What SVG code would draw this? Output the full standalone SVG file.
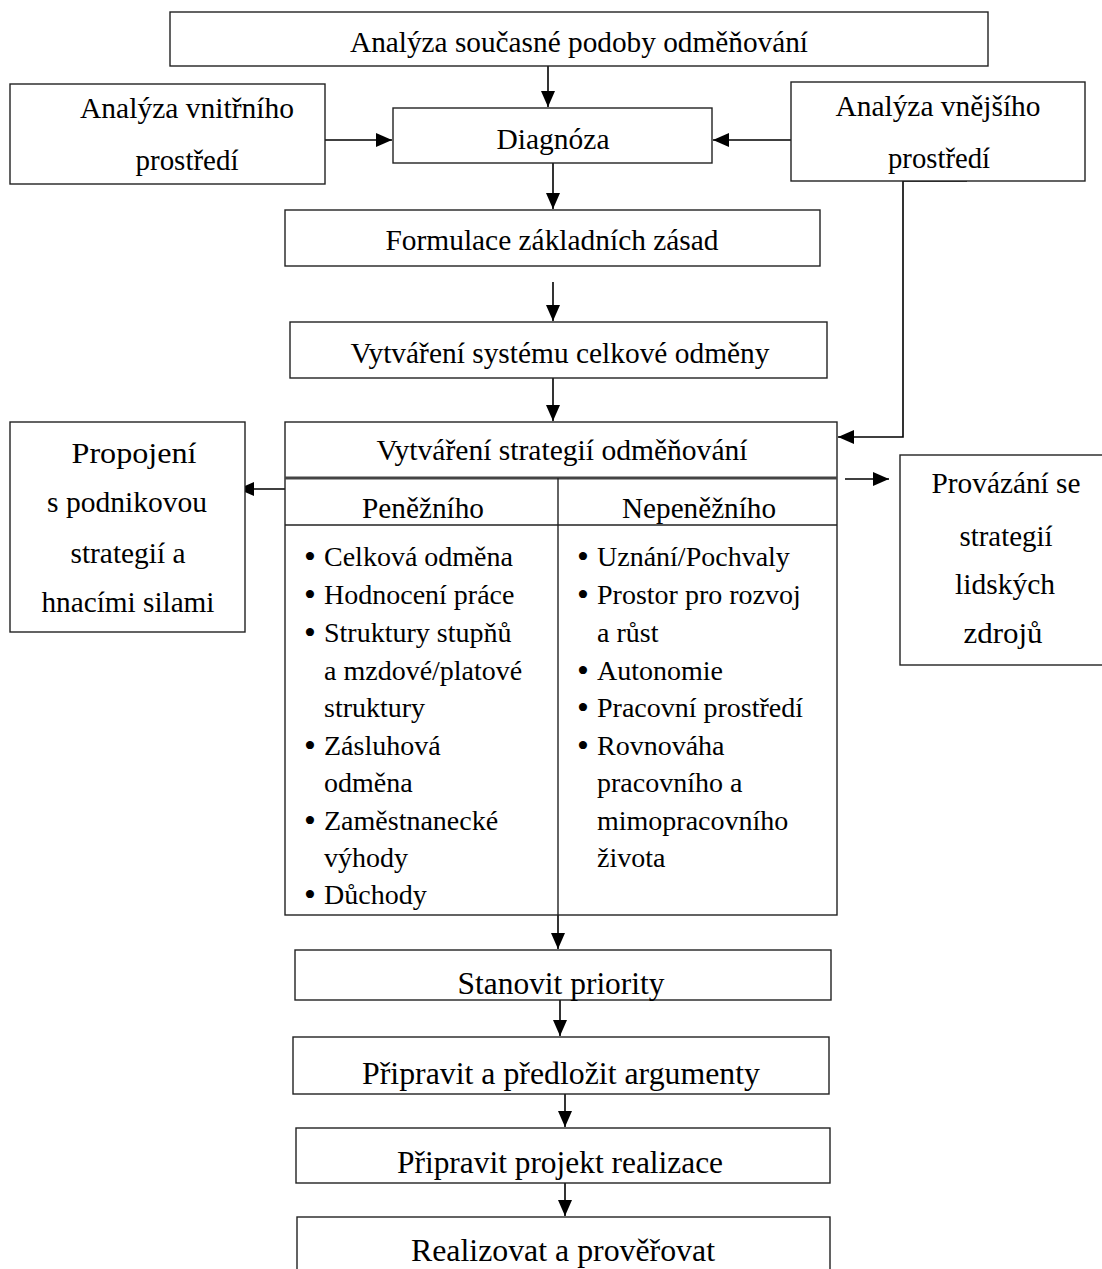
<svg xmlns="http://www.w3.org/2000/svg" width="1102" height="1269" viewBox="0 0 1102 1269">
<defs>
<style>
.box{fill:#fff;stroke:#222;stroke-width:1.4}
.t{font-family:"Liberation Serif","Times New Roman",serif;font-size:29px;fill:#000;text-anchor:middle}
.tl{font-family:"Liberation Serif","Times New Roman",serif;font-size:28px;fill:#000}
.bu{font-size:34px}
.tb{font-family:"Liberation Serif","Times New Roman",serif;font-size:32px;fill:#000;text-anchor:middle}
.c{fill:none;stroke:#000;stroke-width:1.6}
.d{fill:none;stroke:#222;stroke-width:1.4}
</style>
<marker id="ah" markerWidth="16" markerHeight="14" refX="16" refY="7" orient="auto" markerUnits="userSpaceOnUse">
<path d="M0,0 L16,7 L0,14 Z" fill="#000"/>
</marker>
</defs>
<rect width="1102" height="1269" fill="#fff"/>

<g id="connectors">
<line class="c" x1="548" y1="66" x2="548" y2="107" marker-end="url(#ah)"/>
<line class="c" x1="325" y1="140" x2="392" y2="140" stroke-width="2.2" marker-end="url(#ah)"/>
<line class="c" x1="791" y1="140" x2="713" y2="140" stroke-width="2.2" marker-end="url(#ah)"/>
<line class="c" x1="553" y1="163" x2="553" y2="209" marker-end="url(#ah)"/>
<line class="c" x1="553" y1="282" x2="553" y2="321" marker-end="url(#ah)"/>
<line class="c" x1="553" y1="378" x2="553" y2="421" marker-end="url(#ah)"/>
<line class="c" x1="903" y1="181" x2="967" y2="181" stroke-width="2.2"/>
<polyline class="c" points="903,181 903,437 838,437" marker-end="url(#ah)"/>
<line class="c" x1="290" y1="489" x2="238" y2="489" marker-end="url(#ah)"/>
<line class="c" x1="845" y1="479" x2="889" y2="479" marker-end="url(#ah)"/>
<line class="c" x1="558" y1="915" x2="558" y2="949" marker-end="url(#ah)"/>
<line class="c" x1="560" y1="994" x2="560" y2="1036" marker-end="url(#ah)"/>
<line class="c" x1="565" y1="1094" x2="565" y2="1127" marker-end="url(#ah)"/>
<line class="c" x1="565" y1="1183" x2="565" y2="1216" marker-end="url(#ah)"/>
</g>

<g id="n-analyza-soucasne">
<rect class="box" x="170" y="12" width="818" height="54"/>
<text class="t" x="579" y="52" textLength="458" lengthAdjust="spacingAndGlyphs">Analýza současné podoby odměňování</text>
</g>

<g id="n-analyza-vnitrniho">
<rect class="box" x="10" y="84" width="315" height="100"/>
<text class="t" x="187" y="118" textLength="214" lengthAdjust="spacingAndGlyphs">Analýza vnitřního</text>
<text class="t" x="187" y="170" textLength="103" lengthAdjust="spacingAndGlyphs">prostředí</text>
</g>

<g id="n-diagnoza">
<rect class="box" x="393" y="108" width="319" height="55"/>
<text class="t" x="553" y="149" textLength="113" lengthAdjust="spacingAndGlyphs">Diagnóza</text>
</g>

<g id="n-analyza-vnejsiho">
<rect class="box" x="791" y="82" width="294" height="99"/>
<text class="t" x="938" y="116" textLength="205" lengthAdjust="spacingAndGlyphs">Analýza vnějšího</text>
<text class="t" x="939" y="168" textLength="102" lengthAdjust="spacingAndGlyphs">prostředí</text>
</g>

<g id="n-formulace">
<rect class="box" x="285" y="210" width="535" height="56"/>
<text class="t" x="552" y="250" textLength="333" lengthAdjust="spacingAndGlyphs">Formulace základních zásad</text>
</g>

<g id="n-system">
<rect class="box" x="290" y="322" width="537" height="56"/>
<text class="t" x="560" y="363" textLength="419" lengthAdjust="spacingAndGlyphs">Vytváření systému celkové odměny</text>
</g>

<g id="n-strategie">
<rect class="box" x="285" y="422" width="552" height="493"/>
<line x1="285" y1="478" x2="837" y2="478" stroke="#444" stroke-width="3"/>
<line class="d" x1="285" y1="525" x2="837" y2="525"/>
<line class="d" x1="558" y1="478" x2="558" y2="915"/>
<text class="t" x="562" y="460" textLength="371" lengthAdjust="spacingAndGlyphs">Vytváření strategií odměňování</text>
<text class="t" x="423" y="518" textLength="122" lengthAdjust="spacingAndGlyphs">Peněžního</text>
<text class="t" x="699" y="518" textLength="154" lengthAdjust="spacingAndGlyphs">Nepeněžního</text>
<g class="tl">
<text class="bu" x="304" y="568">•</text><text x="324" y="566">Celková odměna</text>
<text class="bu" x="304" y="606">•</text><text x="324" y="604">Hodnocení práce</text>
<text class="bu" x="304" y="644">•</text><text x="324" y="642">Struktury stupňů</text>
<text x="324" y="680">a mzdové/platové</text>
<text x="324" y="717">struktury</text>
<text class="bu" x="304" y="757">•</text><text x="324" y="755">Zásluhová</text>
<text x="324" y="792">odměna</text>
<text class="bu" x="304" y="832">•</text><text x="324" y="830">Zaměstnanecké</text>
<text x="324" y="867">výhody</text>
<text class="bu" x="304" y="906">•</text><text x="324" y="904">Důchody</text>
<text class="bu" x="577" y="568">•</text><text x="597" y="566">Uznání/Pochvaly</text>
<text class="bu" x="577" y="606">•</text><text x="597" y="604">Prostor pro rozvoj</text>
<text x="597" y="642">a růst</text>
<text class="bu" x="577" y="682">•</text><text x="597" y="680">Autonomie</text>
<text class="bu" x="577" y="719">•</text><text x="597" y="717">Pracovní prostředí</text>
<text class="bu" x="577" y="757">•</text><text x="597" y="755">Rovnováha</text>
<text x="597" y="792">pracovního a</text>
<text x="597" y="830">mimopracovního</text>
<text x="597" y="867">života</text>
</g>
</g>

<g id="n-propojeni">
<rect class="box" x="10" y="422" width="235" height="210"/>
<text class="t" x="134" y="463" textLength="125" lengthAdjust="spacingAndGlyphs">Propojení</text>
<text class="t" x="127" y="512" textLength="160" lengthAdjust="spacingAndGlyphs">s podnikovou</text>
<text class="t" x="128" y="563" textLength="115" lengthAdjust="spacingAndGlyphs">strategií a</text>
<text class="t" x="128" y="612" textLength="173" lengthAdjust="spacingAndGlyphs">hnacími silami</text>
</g>

<g id="n-provazani">
<rect class="box" x="900" y="455" width="210" height="210"/>
<text class="t" x="1006" y="493" textLength="149" lengthAdjust="spacingAndGlyphs">Provázání se</text>
<text class="t" x="1006" y="546" textLength="93" lengthAdjust="spacingAndGlyphs">strategií</text>
<text class="t" x="1005" y="594" textLength="100" lengthAdjust="spacingAndGlyphs">lidských</text>
<text class="t" x="1003" y="643" textLength="79" lengthAdjust="spacingAndGlyphs">zdrojů</text>
</g>

<g id="n-stanovit">
<rect class="box" x="295" y="950" width="536" height="50"/>
<text class="tb" x="561" y="994" textLength="207" lengthAdjust="spacingAndGlyphs">Stanovit priority</text>
</g>

<g id="n-pripravit-argumenty">
<rect class="box" x="293" y="1037" width="536" height="57"/>
<text class="tb" x="561" y="1084" textLength="398" lengthAdjust="spacingAndGlyphs">Připravit a předložit argumenty</text>
</g>

<g id="n-pripravit-projekt">
<rect class="box" x="296" y="1128" width="534" height="55"/>
<text class="tb" x="560" y="1173" textLength="326" lengthAdjust="spacingAndGlyphs">Připravit projekt realizace</text>
</g>

<g id="n-realizovat">
<rect class="box" x="297" y="1217" width="533" height="60"/>
<text class="tb" x="563" y="1261" textLength="304" lengthAdjust="spacingAndGlyphs">Realizovat a prověřovat</text>
</g>
</svg>
